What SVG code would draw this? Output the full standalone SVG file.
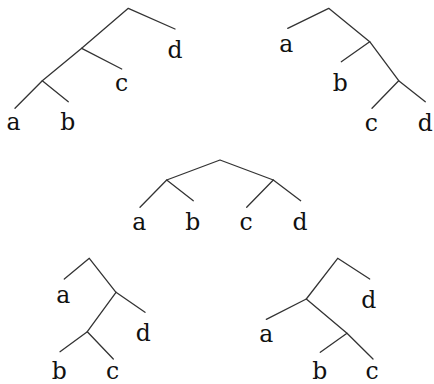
<svg xmlns="http://www.w3.org/2000/svg" width="434" height="384" viewBox="0 0 434 384">
<style>
.e{fill:none;stroke:#333;stroke-width:1.3;stroke-linecap:round;stroke-linejoin:round}
.t{font-family:'DejaVu Serif',serif;font-size:23.5px;fill:#111;text-anchor:middle}
</style>
<rect width="434" height="384" fill="#fff"/>
<g id="edges">
<polyline class="e" points="175,29 128.3,8.3 81.7,48.3 42.3,80.7 15,108.3"/>
<line class="e" x1="81.7" y1="48.3" x2="121.7" y2="69"/>
<line class="e" x1="42.3" y1="80.7" x2="68.3" y2="101.7"/>
<polyline class="e" points="287.7,28.3 328.7,8.3 369.7,41.7 398.7,80.7 425.3,101.7"/>
<line class="e" x1="369.7" y1="41.7" x2="341.3" y2="61.7"/>
<line class="e" x1="398.7" y1="80.7" x2="372" y2="108.3"/>
<polyline class="e" points="166.7,180 220,160 273.3,180"/>
<polyline class="e" points="140,207.3 166.7,180 193.3,200.7"/>
<polyline class="e" points="246.7,207.3 273.3,180 300.7,200.7"/>
<polyline class="e" points="64.3,279 89.3,258.3 116,292.3 145,312.3"/>
<line class="e" x1="116" y1="292.3" x2="87.3" y2="331.7"/>
<polyline class="e" points="60,351.7 87.3,331.7 113.3,359"/>
<polyline class="e" points="369.7,279 337.7,258.3 306.3,299 347,333.3 373,359"/>
<line class="e" x1="306.3" y1="299" x2="266.3" y2="319.3"/>
<line class="e" x1="347" y1="333.3" x2="320.3" y2="352.3"/>
</g>
<g id="tree1" class="t">
<text x="13.5" y="130">a</text><text x="67.7" y="130">b</text><text x="121.7" y="90.7">c</text><text x="175" y="58">d</text>
</g>
<g id="tree2" class="t">
<text x="286.3" y="51.7">a</text><text x="340.3" y="90.7">b</text><text x="371.3" y="130.7">c</text><text x="425.3" y="130.7">d</text>
</g>
<g id="tree3" class="t">
<text x="139.3" y="230">a</text><text x="192.7" y="230">b</text><text x="246" y="230">c</text><text x="300" y="230">d</text>
</g>
<g id="tree4" class="t">
<text x="63.3" y="303.3">a</text><text x="143.3" y="341">d</text><text x="59.3" y="379">b</text><text x="112.7" y="379">c</text>
</g>
<g id="tree5" class="t">
<text x="368.7" y="308.3">d</text><text x="266.3" y="341.7">a</text><text x="319.7" y="379">b</text><text x="372" y="379">c</text>
</g>
</svg>
